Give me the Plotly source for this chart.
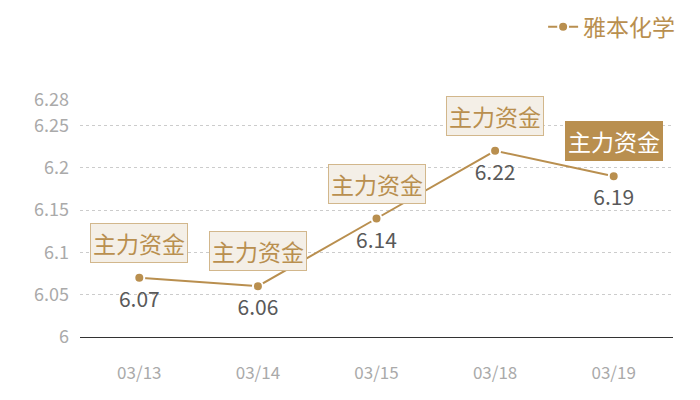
import plotly.graph_objects as go

# data
dates = ["03/13", "03/14", "03/15", "03/18", "03/19"]
prices = [6.07, 6.06, 6.14, 6.22, 6.19]
flags = ["主力资金", "主力资金", "主力资金", "主力资金", "主力资金"]
y_ticks = [6, 6.05, 6.1, 6.15, 6.2, 6.25, 6.28]
y_labels = ["6", "6.05", "6.1", "6.15", "6.2", "6.25", "6.28"]

gold = "#b98f4f"
font_name = "Noto Sans CJK SC"

fig = go.Figure()

fig.add_trace(go.Scatter(
    x=dates, y=prices, name="雅本化学",
    mode="lines+markers",
    line=dict(color=gold, width=2),
    marker=dict(color=gold, size=10, line=dict(color="white", width=2)),
))

# value labels: invisible bigger markers push the text a bit lower
fig.add_trace(go.Scatter(
    x=dates, y=prices, mode="markers+text", showlegend=False, hoverinfo="skip",
    marker=dict(size=20, opacity=0),
    text=[f"{v:.2f}" for v in prices],
    textposition="bottom center",
    textfont=dict(size=21, color="#595959", family=font_name),
))

# flag boxes above each point, the last one highlighted
for i, (d, v, t) in enumerate(zip(dates, prices, flags)):
    last = i == len(dates) - 1
    fig.add_annotation(
        x=d, y=v, text=t, showarrow=False, yshift=35,
        font=dict(size=23, color="white" if last else gold, family=font_name),
        bgcolor=gold if last else "#f4efe7",
        bordercolor=gold if last else "#d2b78c",
        borderwidth=1, borderpad=2,
    )

# page has an 8px body margin, so margins are shifted to compensate
fig.update_layout(
    width=700, height=400,
    margin=dict(l=72, r=35, t=92, b=71, autoexpand=False),
    paper_bgcolor="white", plot_bgcolor="white",
    font=dict(family=font_name),
    showlegend=True,
    legend=dict(orientation="h", x=1.012, xanchor="right", y=1.40, yanchor="top",
                font=dict(size=23, color=gold), itemwidth=30),
)

fig.update_xaxes(
    range=[-0.5, 4.5],
    showgrid=False, showline=True, linecolor="#333333", linewidth=1,
    ticks="", ticklabelstandoff=21,
    tickfont=dict(size=17, color="#aaaaaa"),
)
fig.update_yaxes(
    range=[6, 6.28], tickvals=y_ticks, ticktext=y_labels,
    showgrid=True, gridcolor="#cccccc", griddash="dot", gridwidth=1,
    zeroline=False, showline=False, ticks="", ticklabelstandoff=10,
    tickfont=dict(size=18, color="#aaaaaa"),
)

fig.write_html("out.html")
